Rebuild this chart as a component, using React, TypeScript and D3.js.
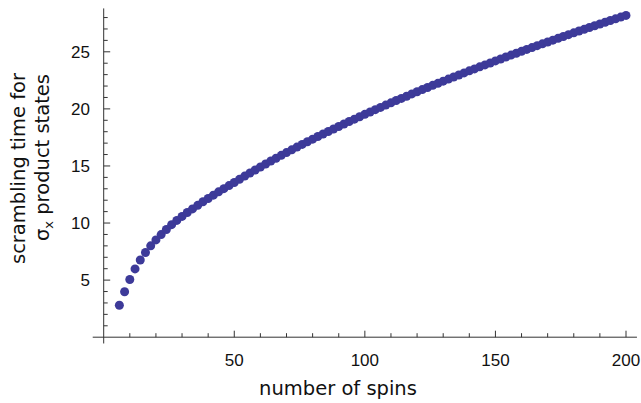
import React from "react";
import * as d3 from "d3";

const spins: number[] = [
  6, 8, 10, 12, 14, 16, 18, 20, 22, 24, 26, 28, 30, 32, 34, 36, 38, 40, 42, 44, 46, 48, 50,
  52, 54, 56, 58, 60, 62, 64, 66, 68, 70, 72, 74, 76, 78, 80, 82, 84, 86, 88, 90, 92, 94, 96, 98, 100,
  102, 104, 106, 108, 110, 112, 114, 116, 118, 120, 122, 124, 126, 128, 130, 132, 134, 136, 138, 140,
  142, 144, 146, 148, 150, 152, 154, 156, 158, 160, 162, 164, 166, 168, 170, 172, 174, 176, 178, 180,
  182, 184, 186, 188, 190, 192, 194, 196, 198, 200,
];

const scramblingTime: number[] = [
  2.8, 3.98, 5.05, 5.98, 6.76, 7.42, 8.0, 8.52, 8.99, 9.43, 9.86, 10.23, 10.58, 10.92, 11.24, 11.55,
  11.86, 12.15, 12.44, 12.73, 13.01, 13.28, 13.55,
  13.83, 14.11, 14.38, 14.65, 14.91, 15.17, 15.43, 15.68, 15.93, 16.17, 16.41, 16.65, 16.89, 17.12,
  17.35, 17.58, 17.8, 18.02, 18.24, 18.46, 18.68, 18.89, 19.1, 19.31, 19.52,
  19.73, 19.93, 20.13, 20.33, 20.53, 20.73, 20.92, 21.11, 21.31, 21.5, 21.69, 21.87, 22.06, 22.24,
  22.43, 22.61, 22.79, 22.97, 23.15, 23.33,
  23.5, 23.68, 23.85, 24.02, 24.2, 24.37, 24.54, 24.71, 24.87, 25.04, 25.21, 25.37, 25.54, 25.7,
  25.86, 26.02, 26.18, 26.34, 26.5, 26.66,
  26.82, 26.97, 27.13, 27.28, 27.44, 27.59, 27.74, 27.89, 28.04, 28.19,
];

const xMajorTicks: number[] = [50, 100, 150, 200];
const yMajorTicks: number[] = [5, 10, 15, 20, 25];
const xLabel = "number of spins";
const yLabelLine1 = "scrambling time for";
const yLabelLine2Symbol = "σ";
const yLabelLine2Sub = "x";
const yLabelLine2Rest = " product states";

const W = 641;
const H = 403;
const DOT = "#3d3a99";
const AXIS = "#333";

export default function App() {
  const x = d3.scaleLinear().domain([0, 200]).range([103.7, 626]);
  const y = d3.scaleLinear().domain([0, 25]).range([337.2, 51.8]);

  const xMinor = d3.range(10, 201, 10).filter((v) => v % 50 !== 0);
  const yMinor = d3.range(1, 29, 1).filter((v) => v % 5 !== 0);

  const tickFont = "'Liberation Sans', Arial, sans-serif";
  const labelFont = "'DejaVu Sans', sans-serif";

  return (
    <svg
      width={W}
      height={H}
      style={{ position: "absolute", left: 0, top: 0, background: "#fff" }}
    >
      {/* axes */}
      <line x1={x(-4.2)} x2={x(204.2)} y1={y(0)} y2={y(0)} stroke={AXIS} strokeWidth={1} />
      <line x1={x(0)} x2={x(0)} y1={y(-0.55)} y2={y(28.8)} stroke={AXIS} strokeWidth={1} />

      {/* x ticks */}
      {xMinor.map((v) => (
        <line key={"xm" + v} x1={x(v)} x2={x(v)} y1={y(0)} y2={y(0) - 4} stroke={AXIS} />
      ))}
      {xMajorTicks.map((v) => (
        <g key={"xM" + v}>
          <line x1={x(v)} x2={x(v)} y1={y(0)} y2={y(0) - 6.5} stroke={AXIS} />
          <text
            x={x(v)}
            y={365.5}
            textAnchor="middle"
            fontFamily={tickFont}
            fontSize={17}
            fill="#111"
          >
            {v}
          </text>
        </g>
      ))}

      {/* y ticks */}
      {yMinor.map((v) => (
        <line key={"ym" + v} x1={x(0)} x2={x(0) + 4} y1={y(v)} y2={y(v)} stroke={AXIS} />
      ))}
      {yMajorTicks.map((v) => (
        <g key={"yM" + v}>
          <line x1={x(0)} x2={x(0) + 6.5} y1={y(v)} y2={y(v)} stroke={AXIS} />
          <text
            x={90}
            y={y(v) + 6.2}
            textAnchor="end"
            fontFamily={tickFont}
            fontSize={17}
            fill="#111"
          >
            {v}
          </text>
        </g>
      ))}

      {/* points */}
      {spins.map((n, i) => (
        <circle key={"p" + n} cx={x(n)} cy={y(scramblingTime[i])} r={4.5} fill={DOT} />
      ))}

      {/* axis labels */}
      <text
        x={338}
        y={395}
        textAnchor="middle"
        fontFamily={labelFont}
        fontSize={19.5}
        fill="#111"
      >
        {xLabel}
      </text>
      <text
        transform="translate(25,168.5) rotate(-90)"
        textAnchor="middle"
        fontFamily={labelFont}
        fontSize={19.5}
        fill="#111"
      >
        {yLabelLine1}
      </text>
      <text
        transform="translate(49,157.5) rotate(-90)"
        textAnchor="middle"
        fontFamily={labelFont}
        fontSize={19.5}
        fill="#111"
      >
        <tspan>{yLabelLine2Symbol}</tspan>
        <tspan fontSize={13} dy={4}>
          {yLabelLine2Sub}
        </tspan>
        <tspan dy={-4}>{yLabelLine2Rest}</tspan>
      </text>
    </svg>
  );
}
